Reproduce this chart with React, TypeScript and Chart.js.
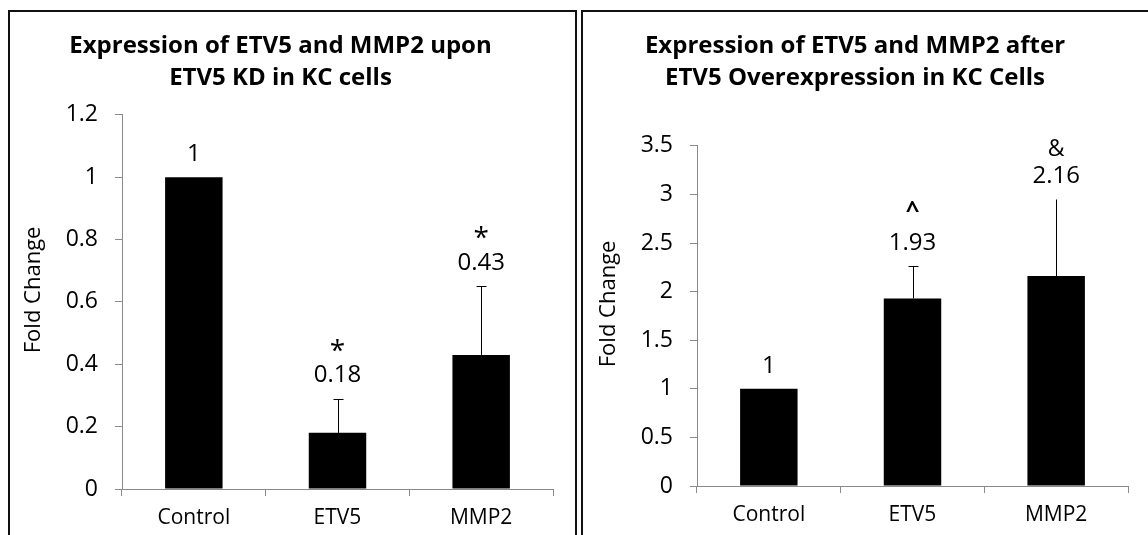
import React, { useEffect, useRef } from "react";
import { Chart, registerables } from "chart.js";

Chart.register(...registerables);

// ---- data ----
const categories = ["Control", "ETV5", "MMP2"];

const kdTitle = ["Expression of ETV5 and MMP2 upon", "ETV5 KD in KC cells"];
const kdValues = [1, 0.18, 0.43];
const kdErrors = [0, 0.11, 0.22];
const kdSymbols = ["", "*", "*"];
const kdCaps = [true, true, true];
const kdAxis = { min: 0, max: 1.2, step: 0.2 };

const oeTitle = ["Expression of ETV5 and MMP2 after", "ETV5 Overexpression in KC Cells"];
const oeValues = [1, 1.93, 2.16];
const oeErrors = [0, 0.33, 0.79];
const oeSymbols = ["", "^", "&"];
const oeCaps = [true, true, false];
const oeAxis = { min: 0, max: 3.5, step: 0.5 };

const yAxisTitle = "Fold Change";

const FONT = "'Open Sans', 'DejaVu Sans', sans-serif";
const AXIS_GRAY = "#8a8a8a";

type PanelProps = {
  title: string[];
  values: number[];
  errors: number[];
  symbols: string[];
  caps: boolean[];
  axis: { min: number; max: number; step: number };
  width: number;
  height: number;
  yWidth: number;
  xHeight: number;
  titleBottom: number;
  padRight: number;
};

function Panel(props: PanelProps) {
  const ref = useRef<HTMLCanvasElement | null>(null);
  useEffect(() => {
    if (!ref.current) return;
    const annotate = {
      id: "annotate",
      afterDatasetsDraw(chart: any) {
        const ctx = chart.ctx;
        const meta = chart.getDatasetMeta(0);
        const ys = chart.scales.y;
        ctx.save();
        props.values.forEach((v, i) => {
          const bar = meta.data[i];
          const x = bar.x;
          const e = props.errors[i];
          const top = ys.getPixelForValue(v + e);
          if (e > 0) {
            ctx.strokeStyle = "#000";
            ctx.lineWidth = 1;
            ctx.beginPath();
            ctx.moveTo(Math.round(x) + 0.5, bar.y);
            ctx.lineTo(Math.round(x) + 0.5, Math.round(top) + 0.5);
            if (props.caps[i]) {
              ctx.moveTo(Math.round(x) - 4.5, Math.round(top) + 0.5);
              ctx.lineTo(Math.round(x) + 5.5, Math.round(top) + 0.5);
            }
            ctx.stroke();
          }
          ctx.fillStyle = "#000";
          ctx.textAlign = "center";
          ctx.textBaseline = "middle";
          ctx.font = `24px ${FONT}`;
          const ly = top - 23;
          ctx.fillText(String(v), x, ly);
          if (props.symbols[i]) {
            const s = props.symbols[i];
            ctx.font = s === "&" ? `23px ${FONT}` : s === "^" ? `bold 24px ${FONT}` : `28px ${FONT}`;
            ctx.fillText(s, x, ly - (s === "&" ? 27 : s === "^" ? 32 : 24));
          }
        });
        // y axis title
        const ca = chart.chartArea;
        ctx.translate(ca.left - 88, (ca.top + ca.bottom) / 2 - 12);
        ctx.rotate(-Math.PI / 2);
        ctx.font = `22px ${FONT}`;
        ctx.fillStyle = "#000";
        ctx.textAlign = "center";
        ctx.textBaseline = "middle";
        ctx.fillText(yAxisTitle, 0, 0);
        ctx.restore();
      },
    };
    const chart = new Chart(ref.current, {
      type: "bar",
      data: {
        labels: categories,
        datasets: [
          {
            data: props.values,
            backgroundColor: "#000",
            borderColor: "#000",
            borderWidth: 0,
            barPercentage: 0.4,
            categoryPercentage: 1,
          },
        ],
      },
      options: {
        responsive: false,
        animation: false,
        events: [],
        layout: { padding: { left: 0, right: props.padRight, top: 0, bottom: 0 } },
        plugins: {
          legend: { display: false },
          tooltip: { enabled: false },
          title: {
            display: true,
            text: props.title,
            color: "#000",
            font: { family: FONT, size: 24, weight: "bold", lineHeight: 1.35 },
            padding: { top: 30, bottom: props.titleBottom },
          },
        },
        scales: {
          x: {
            grid: {
              display: true,
              drawOnChartArea: false,
              drawTicks: true,
              tickLength: 7,
              color: AXIS_GRAY,
              offset: true,
            },
            border: { display: true, color: AXIS_GRAY, width: 1 },
            ticks: { color: "#000", font: { family: FONT, size: 21 }, padding: 9 },
            afterFit(s: any) {
              s.height = props.xHeight;
            },
          },
          y: {
            min: props.axis.min,
            max: props.axis.max,
            grid: {
              display: true,
              drawOnChartArea: false,
              drawTicks: true,
              tickLength: 7,
              color: AXIS_GRAY,
            },
            border: { display: true, color: AXIS_GRAY, width: 1 },
            ticks: {
              stepSize: props.axis.step,
              color: "#000",
              font: { family: FONT, size: 23 },
              padding: 17,
              callback: (val: any) => String(Number(Number(val).toFixed(2))),
            },
            afterFit(s: any) {
              s.width = props.yWidth;
            },
          },
        },
      },
      plugins: [annotate],
    } as any);
    return () => chart.destroy();
  }, []);
  return <canvas ref={ref} width={props.width} height={props.height} style={{ display: "block" }} />;
}

export default function App() {
  useEffect(() => {
    document.body.style.margin = "0";
    document.body.style.overflow = "hidden";
    document.documentElement.style.overflow = "hidden";
  }, []);
  return (
    <div style={{ position: "relative", width: 1148, height: 535, overflow: "hidden", background: "#fff" }}>
      <div
        style={{
          position: "absolute",
          left: 8,
          top: 10,
          width: 569,
          height: 540,
          border: "2px solid #111",
          boxSizing: "border-box",
        }}
      />
      <div
        style={{
          position: "absolute",
          left: 581,
          top: 10,
          width: 600,
          height: 540,
          border: "2px solid #111",
          boxSizing: "border-box",
        }}
      />
      <div style={{ position: "absolute", left: 8, top: 0 }}>
        <Panel
          title={kdTitle}
          values={kdValues}
          errors={kdErrors}
          symbols={kdSymbols}
          caps={kdCaps}
          axis={kdAxis}
          width={568}
          height={535}
          yWidth={114}
          xHeight={46}
          titleBottom={20}
          padRight={23}
        />
      </div>
      <div style={{ position: "absolute", left: 582, top: 0 }}>
        <Panel
          title={oeTitle}
          values={oeValues}
          errors={oeErrors}
          symbols={oeSymbols}
          caps={oeCaps}
          axis={oeAxis}
          width={566}
          height={535}
          yWidth={115}
          xHeight={49}
          titleBottom={51}
          padRight={20}
        />
      </div>
    </div>
  );
}
